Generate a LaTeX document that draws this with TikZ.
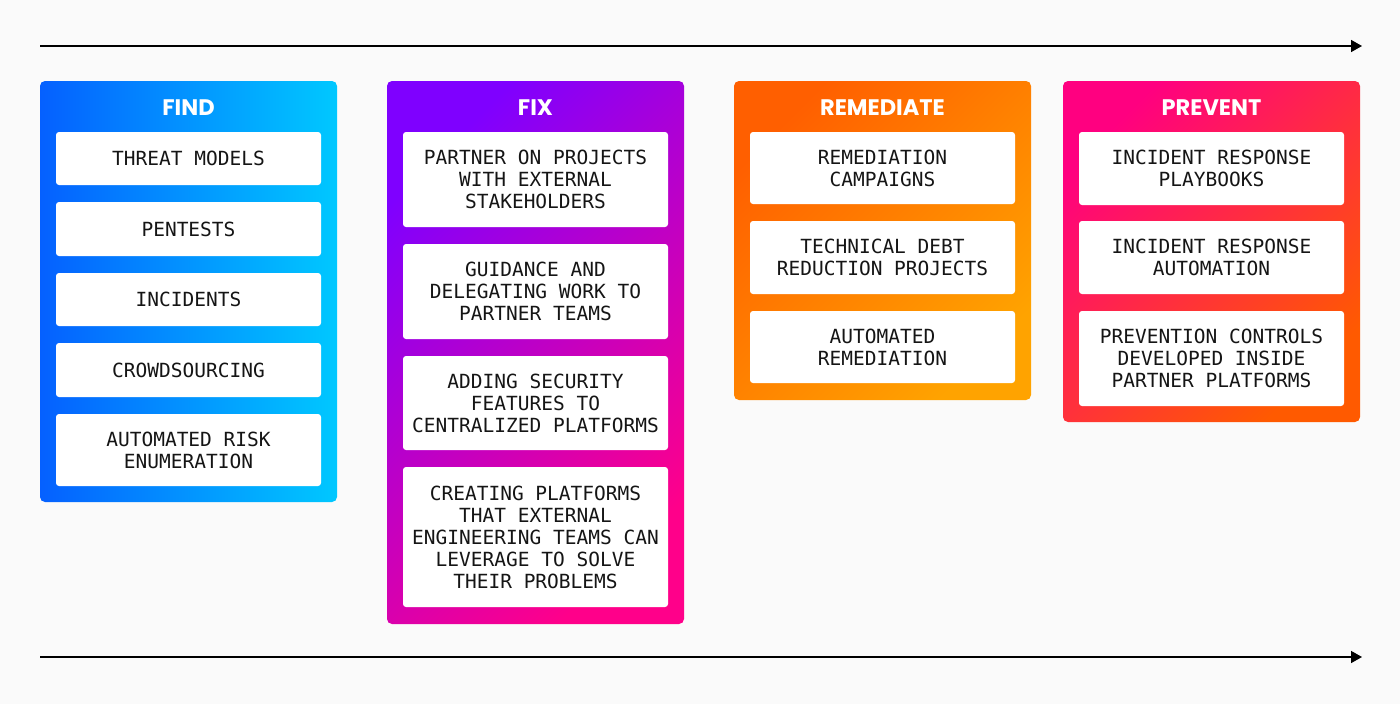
\documentclass[tikz,border=0pt]{standalone}
\usepackage{fontspec}
\usetikzlibrary{arrows.meta}
\newfontfamily\headfont{Poppins}
\newfontfamily\boxfont{DejaVu Sans Mono}
\definecolor{bg}{HTML}{FAFAFA}
\definecolor{findA}{HTML}{0560FF}
\definecolor{findB}{HTML}{00C8FF}
\definecolor{fixA}{HTML}{7F00FF}
\definecolor{fixB}{HTML}{FF008A}
\definecolor{remA}{HTML}{FF5F00}
\definecolor{remB}{HTML}{FFA300}
\definecolor{preA}{HTML}{FF0080}
\definecolor{preB}{HTML}{FF5A00}
\definecolor{txt}{HTML}{151515}
\tikzset{
  panel/.style={rounded corners=5pt, inner sep=0pt, minimum width=297pt},
  item/.style={fill=white, rounded corners=3pt, inner sep=0pt, minimum width=265pt,
    align=center, text=txt, font=\boxfont\fontsize{19.5}{22}\selectfont},
  head/.style={text=white, inner sep=0pt, font=\headfont\bfseries\fontsize{22.5}{24}\selectfont},
  arr/.style={draw=black, line width=1.5pt, -{Triangle[length=11pt,width=12pt]}}
}
\begin{document}
\begin{tikzpicture}[x=1pt,y=-1pt]
\fill[bg] (0,0) rectangle (1400,704);
\useasboundingbox (0,0) rectangle (1400,704);
% arrows
\coordinate (t0) at (40,46);
\coordinate (t1) at (1362,46);
\coordinate (b0) at (40,657);
\coordinate (b1) at (1362,657);
\draw[arr] (t0) -- (t1);
\draw[arr] (b0) -- (b1);
% FIND
\node[panel, minimum height=421pt, left color=findA, right color=findB] (find) at (188.5,291.5) {};
\node[head] (findh) at (188.5,108) {FIND};
\node[item, minimum height=53pt] (f1) at (188.5,158.5) {THREAT MODELS};
\node[item, minimum height=54pt] (f2) at (188.5,229) {PENTESTS};
\node[item, minimum height=53pt] (f3) at (188.5,299.5) {INCIDENTS};
\node[item, minimum height=54pt] (f4) at (188.5,370) {CROWDSOURCING};
\node[item, minimum height=72pt] (f5) at (188.5,450) {AUTOMATED RISK\\ENUMERATION};
% FIX
\node[panel, minimum height=543pt, top color=fixA, bottom color=fixB, shading angle=45] (fix) at (535.5,352.5) {};
\node[head] (fixh) at (535.5,108) {FIX};
\node[item, minimum height=95pt] (x1) at (535.5,179.5) {PARTNER ON PROJECTS\\WITH EXTERNAL\\STAKEHOLDERS};
\node[item, minimum height=95pt] (x2) at (535.5,291.5) {GUIDANCE AND\\DELEGATING WORK TO\\PARTNER TEAMS};
\node[item, minimum height=94pt] (x3) at (535.5,403) {ADDING SECURITY\\FEATURES TO\\CENTRALIZED PLATFORMS};
\node[item, minimum height=140pt] (x4) at (535.5,537) {CREATING PLATFORMS\\THAT EXTERNAL\\ENGINEERING TEAMS CAN\\LEVERAGE TO SOLVE\\THEIR PROBLEMS};
% REMEDIATE
\node[panel, minimum height=319pt, top color=remA, bottom color=remB, shading angle=45] (rem) at (882.5,240.5) {};
\node[head] (remh) at (882.5,108) {REMEDIATE};
\node[item, minimum height=72pt] (r1) at (882.5,168) {REMEDIATION\\CAMPAIGNS};
\node[item, minimum height=73pt] (r2) at (882.5,257.5) {TECHNICAL DEBT\\REDUCTION PROJECTS};
\node[item, minimum height=72pt] (r3) at (882.5,347) {AUTOMATED\\REMEDIATION};
% PREVENT
\node[panel, minimum height=341pt, top color=preA, bottom color=preB, shading angle=45] (pre) at (1211.5,251.5) {};
\node[head] (preh) at (1211.5,108) {PREVENT};
\node[item, minimum height=73pt] (p1) at (1211.5,168.5) {INCIDENT RESPONSE\\PLAYBOOKS};
\node[item, minimum height=73pt] (p2) at (1211.5,257.5) {INCIDENT RESPONSE\\AUTOMATION};
\node[item, minimum height=95pt] (p3) at (1211.5,358.5) {PREVENTION CONTROLS\\DEVELOPED INSIDE\\PARTNER PLATFORMS};
\end{tikzpicture}
\end{document}
